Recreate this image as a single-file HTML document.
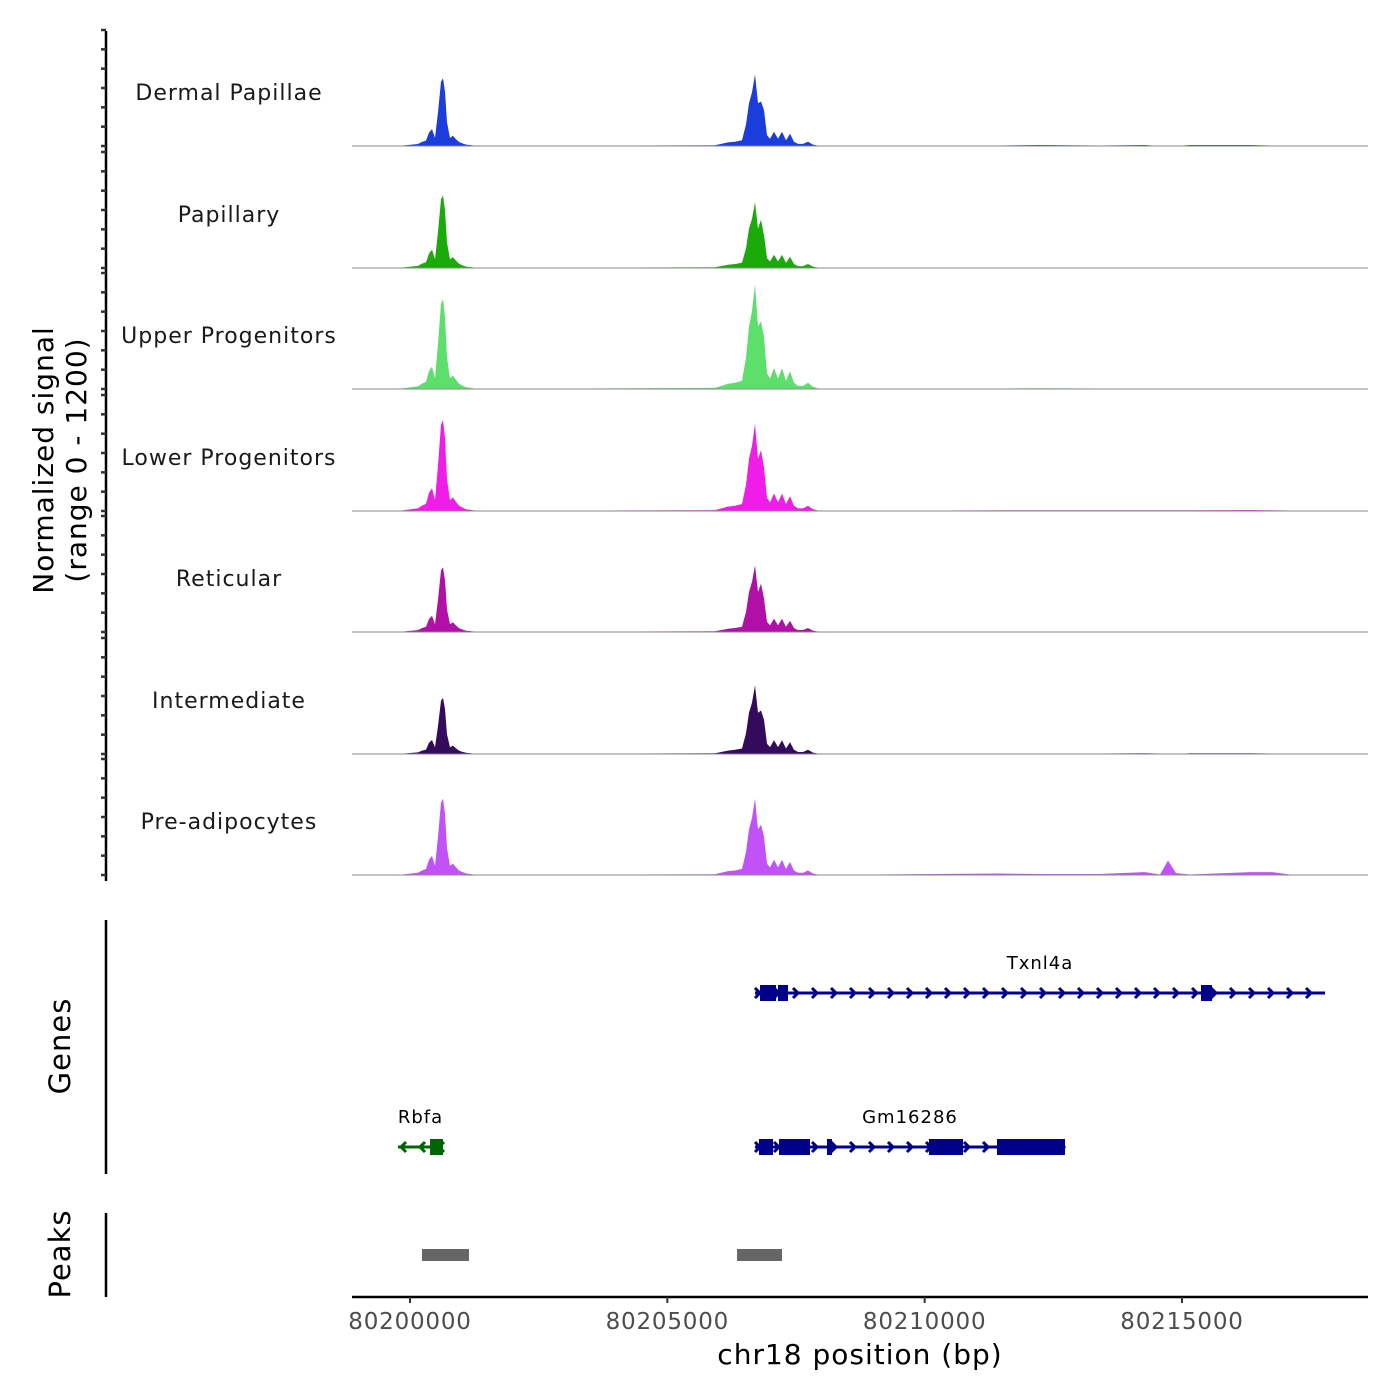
<!DOCTYPE html>
<html><head><meta charset="utf-8"><style>
html,body{margin:0;padding:0;background:#fff;}
svg{display:block;font-family:"DejaVu Sans","Liberation Sans",sans-serif;}
</style></head><body>
<svg id="chart" width="1400" height="1400" viewBox="0 0 1400 1400" xmlns="http://www.w3.org/2000/svg">
<rect width="1400" height="1400" fill="#fff"/>
<g id="tracks"></g>
<g id="genes"></g>
<g id="peaks"></g>
<g id="axes"></g>
<text transform="translate(53,460) rotate(-90)" text-anchor="middle" font-size="28" letter-spacing="1" fill="#000">Normalized signal</text>
<text transform="translate(86,460) rotate(-90)" text-anchor="middle" font-size="28" letter-spacing="1" fill="#000">(range 0 - 1200)</text>
<text transform="translate(70,1046) rotate(-90)" text-anchor="middle" font-size="29" letter-spacing="1" fill="#000">Genes</text>
<text transform="translate(70,1254) rotate(-90)" text-anchor="middle" font-size="29" letter-spacing="1" fill="#000">Peaks</text>
<text x="860" y="1364" text-anchor="middle" font-size="28" letter-spacing="1" fill="#000">chr18 position (bp)</text>
</svg>
<script>
const trackNames = ["Dermal Papillae","Papillary","Upper Progenitors","Lower Progenitors","Reticular","Intermediate","Pre-adipocytes"];
const trackColors = ["#1a3ddb","#1aab0b","#5ddf6c","#f01ce8","#b010a6","#330a5c","#c052f8"];
const positions = [80199767,80200155,80200233,80200311,80200369,80200427,80200486,80200544,80200602,80200641,80200680,80200719,80200777,80200836,80200894,80200952,80201010,80201088,80201205,80201321,
80205926,80206179,80206315,80206451,80206528,80206587,80206645,80206703,80206762,80206820,80206878,80206937,80206995,80207073,80207150,80207228,80207306,80207383,80207461,80207539,80207636,80207733,80207830,80207966,
80211464,80212241,80213407,80214281,80214573,80214728,80214884,80215155,80216321,80216749,80217098,80218459];
const sigDermal = [0,21,42,56,140,175,84,350,665,700,560,245,84,105,70,42,28,14,7,0,
7,37,44,59,222,444,555,740,444,460,370,111,74,148,74,148,59,126,44,22,22,44,15,0,
5,10,5,10,0,0,0,10,10,5,0,0];
const sigPapillary = [0,22,45,60,150,188,90,375,712,750,600,262,90,112,75,45,30,15,8,0,
7,34,41,54,204,408,510,680,408,500,340,102,68,136,68,136,54,116,41,20,20,41,14,0,
3,3,3,3,0,0,0,3,3,3,0,0];
const sigUpper = [0,28,56,74,186,232,112,465,884,930,744,326,112,140,93,56,37,19,9,0,
11,54,65,86,324,648,810,1080,648,700,540,162,108,216,108,216,86,184,65,32,32,65,22,0,
5,8,5,5,5,5,5,5,5,5,0,0];
const sigLower = [0,28,56,75,188,235,113,470,893,940,752,329,113,141,94,56,38,19,9,0,
9,45,54,72,270,540,675,900,540,630,450,135,90,180,90,180,72,153,54,27,27,54,18,0,
8,8,8,8,8,8,8,8,10,8,5,0];
const sigReticular = [0,20,40,54,134,168,80,335,636,670,536,234,80,100,67,40,27,13,7,0,
7,34,41,55,207,414,518,690,414,500,345,104,69,138,69,138,55,117,41,21,21,41,14,0,
3,3,3,3,0,0,0,3,3,3,0,0];
const sigIntermediate = [0,17,35,46,116,145,70,290,551,580,464,203,70,87,58,35,23,12,6,0,
7,35,43,57,213,426,532,710,426,450,355,106,71,142,71,142,57,121,43,21,21,43,14,0,
5,5,5,8,5,0,0,8,8,5,0,0];
const sigPreadip = [0,24,47,63,158,198,95,395,750,790,632,276,95,118,79,47,32,16,8,0,
8,40,47,63,237,474,592,790,474,520,395,118,79,158,79,158,63,134,47,24,24,47,16,0,
15,10,10,30,5,150,20,5,30,30,5,0];
const signals = [sigDermal,sigPapillary,sigUpper,sigLower,sigReticular,sigIntermediate,sigPreadip];
const xTicks = [80200000,80205000,80210000,80215000];
const yTicks = [0,200,400,600,800,1000,1200];
const geneNames = ["Txnl4a","Gm16286","Rbfa"];
const geneStarts = [80206703,80206703,80199767];
const geneEnds = [80217779,80212727,80200641];
const geneStrands = [1,1,-1];
const geneRows = [0,1,1];
const geneExons = [[[80206801,80207112],[80207150,80207344],[80215369,80215583]],
 [[80206781,80207053],[80207170,80207772],[80208102,80208199],[80210084,80210745],[80211405,80212727]],
 [[80200389,80200641]]];
const peakStarts = [80200233,80206354];
const peakEnds = [80201146,80207228];

const NS="http://www.w3.org/2000/svg";
const X0=352,X1=1368, BP0=80198873, BP1=80218614;
const xs = bp => X0 + (bp-BP0)/(BP1-BP0)*(X1-X0);
const baselines=[146,268,389,511,632,754,875];
const H=116;
const ys = (v,b) => b - v/1200*H;
function mk(tag,attrs,parent){const e=document.createElementNS(NS,tag);for(const k in attrs)e.setAttribute(k,attrs[k]);parent.appendChild(e);return e;}

const tg=document.getElementById('tracks');
trackNames.forEach((name,i)=>{
  const b=baselines[i];
  let d=`M${X0},${b}`;
  positions.forEach((p,j)=>{d+=` L${xs(p).toFixed(1)},${ys(signals[i][j],b).toFixed(1)}`;});
  d+=` L${X1},${b} Z`;
  const a=mk('path',{d:d,fill:trackColors[i]},tg);
  
  
  const l=mk('line',{x1:X0,x2:X1,y1:b,y2:b,stroke:'#888','stroke-width':1},tg);
  
  
  const t=mk('text',{x:229,y:b-46,'text-anchor':'middle','font-size':22,'letter-spacing':1,fill:'#1a1a1a'},tg);
  t.textContent=name;
  
  
});

const ax=document.getElementById('axes');
mk('line',{x1:106,x2:106,y1:31,y2:881,stroke:'#000','stroke-width':2.5},ax);
baselines.forEach(b=>{yTicks.forEach(v=>{
  const y=ys(v,b);
  const tk=mk('line',{x1:101,x2:106,y1:y,y2:y,stroke:'#333','stroke-width':2.5},ax);
  
  
});});
mk('line',{x1:106,x2:106,y1:920,y2:1174,stroke:'#000','stroke-width':2.5},ax);
mk('line',{x1:106,x2:106,y1:1213,y2:1297,stroke:'#000','stroke-width':2.5},ax);
mk('line',{x1:X0,x2:X1,y1:1297,y2:1297,stroke:'#000','stroke-width':2.5},ax);
xTicks.forEach(v=>{
  const x=xs(v);
  const tk=mk('line',{x1:x,x2:x,y1:1297,y2:1303,stroke:'#333','stroke-width':2},ax);
  
  
  const t=mk('text',{x:x,y:1329,'text-anchor':'middle','font-size':23,'letter-spacing':0.8,fill:'#4d4d4d'},ax);
  t.textContent=v;
  
  
});

const gg=document.getElementById('genes');
const rowY=[993,1147];
geneNames.forEach((g,i)=>{
  const y=rowY[geneRows[i]];
  const col = geneStrands[i]>0 ? '#00008b' : '#006400';
  const x1=xs(geneStarts[i]), x2=xs(geneEnds[i]);
  const grp=mk('g',{},gg);
  
  
  mk('line',{x1:x1,x2:x2,y1:y,y2:y,stroke:col,'stroke-width':3},grp);
  const s=geneStrands[i];
  for(let x=x1+4; x<=x2; x+=19){
    mk('polyline',{points:`${x-4*s},${y-5} ${x+1*s},${y} ${x-4*s},${y+5}`,fill:'none',stroke:col,'stroke-width':3},grp);
  }
  geneExons[i].forEach(e=>{
    mk('rect',{x:xs(e[0]),y:y-8,width:Math.max(3,xs(e[1])-xs(e[0])),height:16,fill:col},grp);
  });
  const t=mk('text',{x:(x1+x2)/2,y:y-24,'text-anchor':'middle','font-size':18,'letter-spacing':1,fill:'#000'},grp);
  t.textContent=g;
  
  
});

const pg=document.getElementById('peaks');
peakStarts.forEach((s,i)=>{
  const r=mk('rect',{x:xs(s),y:1249,width:xs(peakEnds[i])-xs(s),height:12,fill:'#666'},pg);
  
  
});
</script>
</body></html>
